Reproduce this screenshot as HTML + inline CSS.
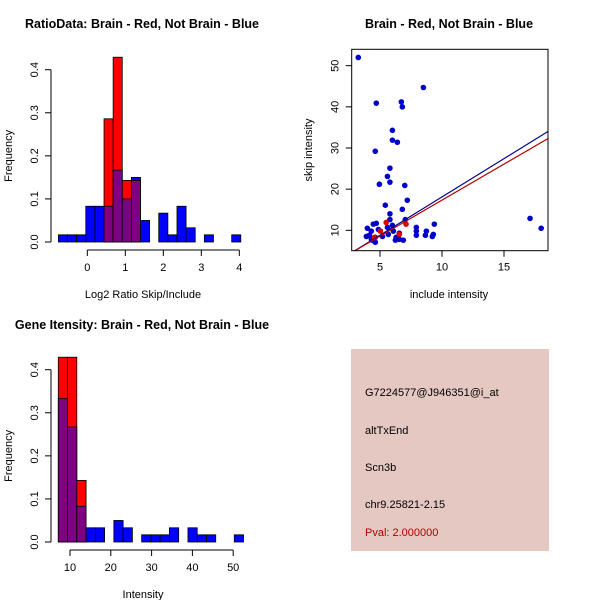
<!DOCTYPE html>
<html><head><meta charset="utf-8"><style>
html,body{margin:0;padding:0;background:#fff;}
svg{display:block;font-family:"Liberation Sans",sans-serif;}
</style></head><body>
<svg id="s" width="600" height="600" xmlns="http://www.w3.org/2000/svg">
<rect x="0" y="0" width="600" height="600" fill="#fff"/>
</svg>
<script>
// ---- data ----
const ratioBreakStart = -0.76;
const ratioBinWidth = 0.24;
const ratioBlue = [0.0167,0.0167,0.0167,0.083,0.083,0.083,0.167,0.1,0.15,0.05,0,0.067,0.0167,0.083,0.033,0,0.0167,0,0,0.0167];
const ratioRed  = [0,0,0,0,0,0.286,0.429,0.143,0.143,0,0,0,0,0,0,0,0,0,0,0];
const ratioXTicks = [0,1,2,3,4];
const freqTicks = [0.0,0.1,0.2,0.3,0.4];

const intBreakStart = 7.13;
const intBinWidth = 2.27;
const intBlue = [0.333,0.267,0.083,0.033,0.033,0,0.05,0.033,0,0.0167,0.0167,0.0167,0.033,0,0.033,0.0167,0.0167,0,0,0.0167];
const intRed  = [0.429,0.429,0.143,0,0,0,0,0,0,0,0,0,0,0,0,0,0,0,0,0];
const intXTicks = [10,20,30,40,50];

const scatterBlueX = [3.25,8.5,4.7,6.72,6.8,6.0,6.0,6.4,4.62,5.8,5.6,5.8,4.95,7.0,7.2,5.43,6.8,5.8,7.04,5.8,17.1,18.0,9.38,7.93,7.93,7.93,8.74,8.66,9.3,9.22,3.98,3.9,4.3,4.46,4.7,4.62,4.62,4.38,4.87,5.2,5.6,5.67,6.0,6.08,6.3,6.56,6.24,6.88,6.56,4.3,4.14];
const scatterBlueY = [52.0,44.7,40.9,41.2,40.0,34.3,31.9,31.4,29.2,25.1,23.1,21.7,21.2,20.9,17.3,16.1,15.1,14.0,12.6,12.6,12.9,10.5,11.5,10.7,9.8,8.8,9.8,8.8,9.0,8.5,10.5,8.5,9.8,11.5,11.7,8.3,7.1,7.6,10.2,8.5,10.7,9.0,11.2,9.8,8.3,9.3,7.6,7.6,7.8,7.8,8.8];
const scatterRedX = [5.5,7.1,5.03,6.56,4.55];
const scatterRedY = [11.9,11.5,9.8,9.0,8.3];
const blueFit = [-0.48,1.86]; // intercept, slope
const redFit = [-0.16,1.75];
const scXTicks = [5,10,15];
const scYTicks = [10,20,30,40,50];

// ---- helpers ----
const svg = document.getElementById('s');
const NS = 'http://www.w3.org/2000/svg';
function mk(tag, attrs, parent){
  const e = document.createElementNS(NS, tag);
  for (const k in attrs) e.setAttribute(k, attrs[k]);
  (parent||svg).appendChild(e);
  return e;
}
function txt(x,y,s,size,opts,parent){
  const t = mk('text',Object.assign({x:x,y:y,'font-size':size,'text-anchor':'middle',fill:'#000'},opts||{}),parent);
  t.textContent = s;
  return t;
}

function histogram(name, breakStart, bw, blue, red, xTicks, xmap, ymap, panelTitle, xlab, titleY, baseY){
  const g = mk('g',{});
  
  
  for (let i=0;i<blue.length;i++){
    const x0 = xmap(breakStart+i*bw), x1 = xmap(breakStart+(i+1)*bw);
    const b = blue[i], r = red[i];
    const hi = Math.max(b,r), lo = Math.min(b,r);
    if (hi>0){
      const bar = mk('rect',{x:x0,y:ymap(hi),width:x1-x0,height:ymap(0)-ymap(hi),fill:(r>b?'#FF0000':'#0000FF'),stroke:'#000','stroke-width':0.8},g);
      
      
    }
    if (lo>0){
      const ov = mk('rect',{x:x0,y:ymap(lo),width:x1-x0,height:ymap(0)-ymap(lo),fill:'#7F0080',stroke:'#000','stroke-width':0.8},g);
      
      
    }
  }
  const ya = mk('g',{},g);
  
  
  mk('line',{x1:51,x2:51,y1:ymap(0),y2:ymap(0.4),stroke:'#000'},ya);
  freqTicks.forEach(v=>{
    const y=ymap(v);
    mk('line',{x1:45,x2:51,y1:y,y2:y,stroke:'#000'},ya);
    txt(0,0,v.toFixed(1),11,{transform:'translate(38,'+y+') rotate(-90)'},ya);
  });
  const xa = mk('g',{},g);
  
  
  const ax = baseY+8;
  mk('line',{x1:xmap(xTicks[0]),x2:xmap(xTicks[xTicks.length-1]),y1:ax,y2:ax,stroke:'#000'},xa);
  xTicks.forEach(v=>{
    const x=xmap(v);
    mk('line',{x1:x,x2:x,y1:ax,y2:ax+6,stroke:'#000'},xa);
    txt(x,ax+21,String(v),11,{},xa);
  });
  const tt = txt(142,titleY,panelTitle,12.5,{'font-weight':'bold'},g);
  
  
  const xl = txt(143,baseY+56,xlab,11,{},g);
  
  
  const yl = txt(0,0,'Frequency',11,{transform:'translate(12,'+(ymap(0.2))+') rotate(-90)'},g);
  
  
}

const r1x = v => 87.3 + v*38;
const r1y = v => 242 - v*(242-69.7)/0.4;
histogram('ratio-histogram', ratioBreakStart, ratioBinWidth, ratioBlue, ratioRed, ratioXTicks, r1x, r1y,
  'RatioData: Brain - Red, Not Brain - Blue', 'Log2 Ratio Skip/Include', 28, 242);

const i1x = v => 70 + (v-10)*4.08;
const i1y = v => 542 - v*(542-369.7)/0.4;
histogram('intensity-histogram', intBreakStart, intBinWidth, intBlue, intRed, intXTicks, i1x, i1y,
  'Gene Itensity: Brain - Red, Not Brain - Blue', 'Intensity', 329, 542);

(function(){
  const L=351.7,R=548,T=49.3,B=250.7;
  const sx = v => 380 + (v-5)*12.4;
  const sy = v => 230.3 - (v-10)*4.115;
  const g = mk('g',{});
  
  
  const clip = mk('clipPath',{id:'scClip'},g);
  mk('rect',{x:L,y:T,width:R-L,height:B-T},clip);
  const pts = mk('g',{'clip-path':'url(#scClip)'},g);
  for (let i=0;i<scatterBlueX.length;i++){
    const c = mk('circle',{cx:sx(scatterBlueX[i]),cy:sy(scatterBlueY[i]),r:2.8,fill:'#0000CC'},pts);
    
    
  }
  for (let i=0;i<scatterRedX.length;i++){
    const c = mk('circle',{cx:sx(scatterRedX[i]),cy:sy(scatterRedY[i]),r:2.8,fill:'#DD0000'},pts);
    
    
  }
  const xa=2.5, xb=19;
  const bl = mk('line',{x1:sx(xa),y1:sy(blueFit[0]+blueFit[1]*xa),x2:sx(xb),y2:sy(blueFit[0]+blueFit[1]*xb),stroke:'#00008B','stroke-width':1.2},pts);
  
  
  const rl = mk('line',{x1:sx(xa),y1:sy(redFit[0]+redFit[1]*xa),x2:sx(xb),y2:sy(redFit[0]+redFit[1]*xb),stroke:'#B00000','stroke-width':1.2},pts);
  
  
  const box = mk('rect',{x:L,y:T,width:R-L,height:B-T,fill:'none',stroke:'#000'},g);
  
  
  scXTicks.forEach(v=>{ const x=sx(v); mk('line',{x1:x,x2:x,y1:B,y2:B+6,stroke:'#000'},g); txt(x,B+20,String(v),11,{},g); });
  scYTicks.forEach(v=>{ const y=sy(v); mk('line',{x1:L-6,x2:L,y1:y,y2:y,stroke:'#000'},g); txt(0,0,String(v),11,{transform:'translate('+(L-13)+','+y+') rotate(-90)'},g); });
  const t = txt(449,28,'Brain - Red, Not Brain - Blue',12.5,{'font-weight':'bold'},g);
  
  
  const xl = txt(449,298,'include intensity',11,{},g);
  
  
  const yl = txt(0,0,'skip intensity',11,{transform:'translate(312,150) rotate(-90)'},g);
  
  
})();

(function(){
  const g = mk('g',{});
  
  
  mk('rect',{x:351,y:349,width:198,height:202,fill:'#E6C8C2'},g);
  const lines = [['G7224577@J946351@i_at',396,'#000'],['altTxEnd',434,'#000'],['Scn3b',471,'#000'],['chr9.25821-2.15',508,'#000'],['Pval: 2.000000',536,'#B00000']];
  lines.forEach(l=>{
    const t = txt(365,l[1],l[0],11,{'text-anchor':'start',fill:l[2]},g);
    
    
  });
})();
</script>
</body></html>
